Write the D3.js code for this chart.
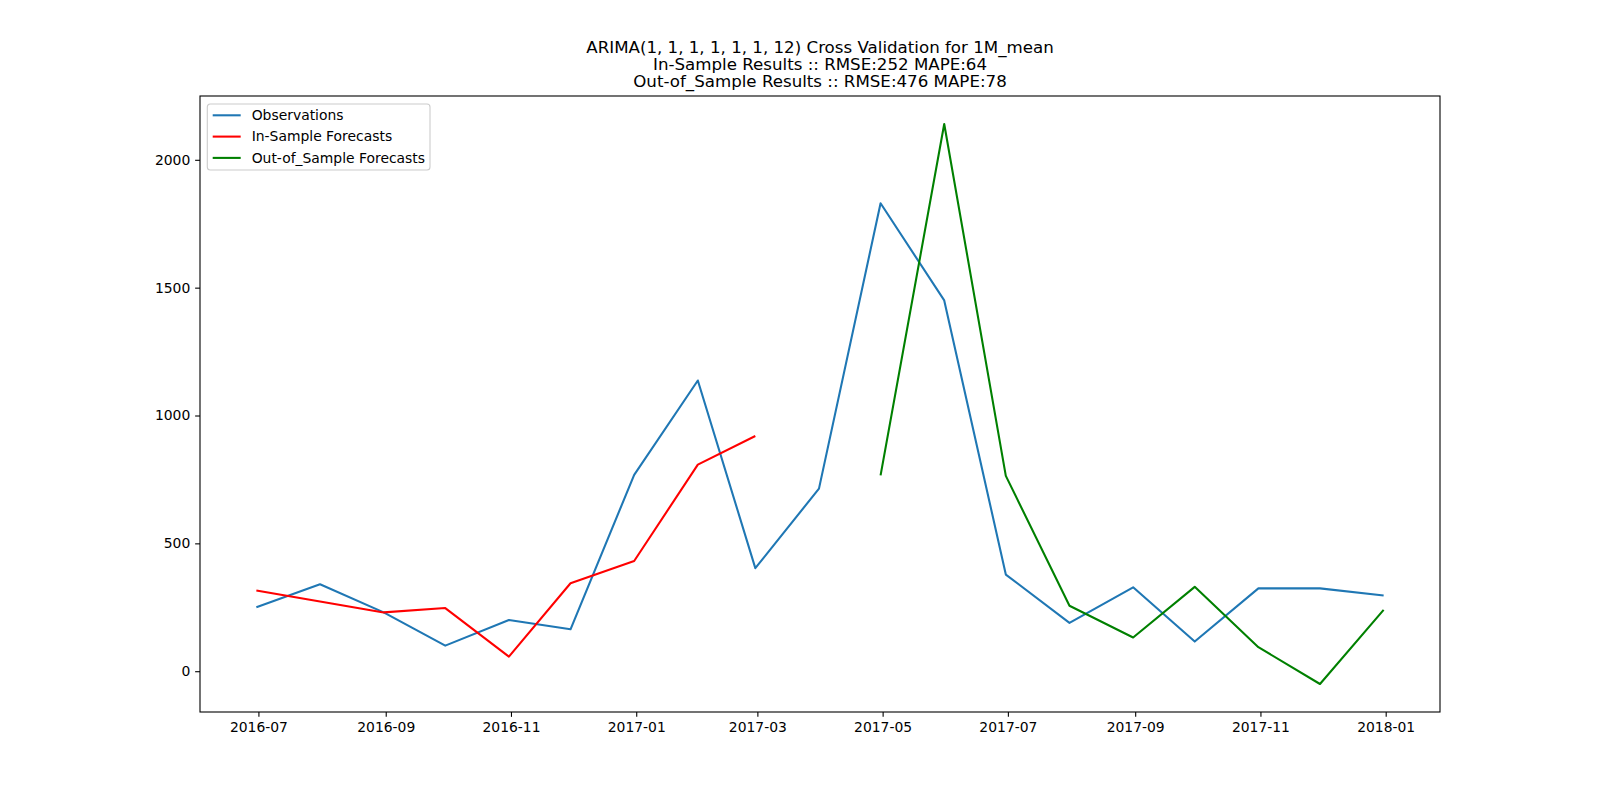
<!DOCTYPE html>
<html>
<head>
<meta charset="utf-8">
<script src="https://cdn.jsdelivr.net/npm/d3@7"></script>
<style>
	body { margin: 0; background: #fff; }
	svg { font-family: "DejaVu Sans", sans-serif; }
</style>
</head>
<body>
<div id="chart"></div>
<script>
'use strict';

// month-end dates of the series
const obsDates = ['2016-06-30', '2016-07-31', '2016-08-31', '2016-09-30', '2016-10-31', '2016-11-30',
	'2016-12-31', '2017-01-31', '2017-02-28', '2017-03-31', '2017-04-30', '2017-05-31', '2017-06-30',
	'2017-07-31', '2017-08-31', '2017-09-30', '2017-10-31', '2017-11-30', '2017-12-31'];
const obsValues = [250, 340, 230, 100, 200, 164, 768, 1137, 403, 714, 1830, 1450, 378, 189, 328, 116, 324, 324, 296];

const inDates = ['2016-06-30', '2016-07-31', '2016-08-31', '2016-09-30', '2016-10-31', '2016-11-30',
	'2016-12-31', '2017-01-31', '2017-02-28'];
const inValues = [316, 273, 230, 247, 57, 344, 431, 808, 920];

const outDates = ['2017-04-30', '2017-05-31', '2017-06-30', '2017-07-31', '2017-08-31', '2017-09-30',
	'2017-10-31', '2017-11-30', '2017-12-31'];
const outValues = [766, 2140, 764, 256, 132, 330, 94, -50, 240];

const yTicks = [0, 500, 1000, 1500, 2000];

const titleLines = [
	'ARIMA(1, 1, 1, 1, 1, 1, 12) Cross Validation for 1M_mean',
	'In-Sample Results :: RMSE:252 MAPE:64',
	'Out-of_Sample Results :: RMSE:476 MAPE:78'
];

const series = [
	{ name: 'Observations', dates: obsDates, values: obsValues, color: '#1f77b4' },
	{ name: 'In-Sample Forecasts', dates: inDates, values: inValues, color: '#ff0000' },
	{ name: 'Out-of_Sample Forecasts', dates: outDates, values: outValues, color: '#008000' }
];

const width = 1600, height = 800;
const margin = { top: 96, right: 160, bottom: 88, left: 200 };
const innerW = width - margin.left - margin.right;
const innerH = height - margin.top - margin.bottom;

const parse = d3.utcParse('%Y-%m-%d');
series.forEach(s => {
	s.points = s.dates.map((d, i) => ({ date: parse(d), val: s.values[i] }));
});

// matplotlib style 5% padding
const allPts = series.flatMap(s => s.points);
const xExt = d3.extent(allPts, d => d.date.getTime());
const yExt = d3.extent(allPts, d => d.val);
const xPad = (xExt[1] - xExt[0]) * 0.05;
const yPad = (yExt[1] - yExt[0]) * 0.05;

const x = d3.scaleUtc()
	.domain([new Date(xExt[0] - xPad), new Date(xExt[1] + xPad)])
	.range([0, innerW]);
const y = d3.scaleLinear()
	.domain([yExt[0] - yPad, yExt[1] + yPad])
	.range([innerH, 0]);

const svg = d3.select('#chart').append('svg')
	.attr('width', width)
	.attr('height', height);

const g = svg.append('g')
	.attr('transform', 'translate(' + margin.left + ',' + margin.top + ')');

// title
svg.append('text')
	.attr('x', margin.left + innerW / 2)
	.attr('text-anchor', 'middle')
	.attr('font-size', '16.67px')
	.attr('fill', '#000')
	.selectAll('tspan')
	.data(titleLines)
	.join('tspan')
	.attr('x', margin.left + innerW / 2)
	.attr('y', (d, i) => 52.7 + i * 17.2)
	.text(d => d);

// lines
const line = d3.line()
	.x(d => x(d.date))
	.y(d => y(d.val));

g.selectAll('path.series')
	.data(series)
	.join('path')
	.attr('class', 'series')
	.attr('d', d => line(d.points))
	.attr('fill', 'none')
	.attr('stroke', d => d.color)
	.attr('stroke-width', 2.08)
	.attr('stroke-linejoin', 'round')
	.attr('stroke-linecap', 'butt');

// axes
const xAxis = d3.axisBottom(x)
	.ticks(d3.utcMonth.every(2))
	.tickFormat(d3.utcFormat('%Y-%m'))
	.tickSizeInner(4.86)
	.tickSizeOuter(0)
	.tickPadding(4.86);

const yAxis = d3.axisLeft(y)
	.tickValues(yTicks)
	.tickFormat(d3.format('d'))
	.tickSizeInner(4.86)
	.tickSizeOuter(0)
	.tickPadding(4.86);

const gx = g.append('g')
	.attr('transform', 'translate(0,' + innerH + ')')
	.call(xAxis);
const gy = g.append('g').call(yAxis);

[gx, gy].forEach(ax => {
	ax.select('.domain').remove();
	ax.selectAll('.tick line').attr('stroke', '#000').attr('stroke-width', 1.1);
	ax.selectAll('.tick text')
		.attr('fill', '#000')
		.attr('font-size', '13.9px')
		.attr('font-family', '"DejaVu Sans", sans-serif');
});
gx.selectAll('.tick text').attr('dy', '0.76em');

// frame
g.append('rect')
	.attr('width', innerW)
	.attr('height', innerH)
	.attr('fill', 'none')
	.attr('stroke', '#000')
	.attr('stroke-width', 1.1);

// legend
const legend = g.append('g')
	.attr('transform', 'translate(7.3, 8)');

legend.append('rect')
	.attr('width', 222.7)
	.attr('height', 66)
	.attr('rx', 3)
	.attr('fill', '#fff')
	.attr('fill-opacity', 0.8)
	.attr('stroke', '#cccccc')
	.attr('stroke-width', 1.1);

const items = legend.selectAll('g.item')
	.data(series)
	.join('g')
	.attr('class', 'item')
	.attr('transform', (d, i) => 'translate(0,' + (11.3 + i * 21.3) + ')');

items.append('line')
	.attr('x1', 5.4)
	.attr('x2', 33.4)
	.attr('stroke', d => d.color)
	.attr('stroke-width', 2.08);

items.append('text')
	.attr('x', 44.4)
	.attr('dy', '0.35em')
	.attr('font-size', '13.9px')
	.attr('fill', '#000')
	.text(d => d.name);
</script>
</body>
</html>
